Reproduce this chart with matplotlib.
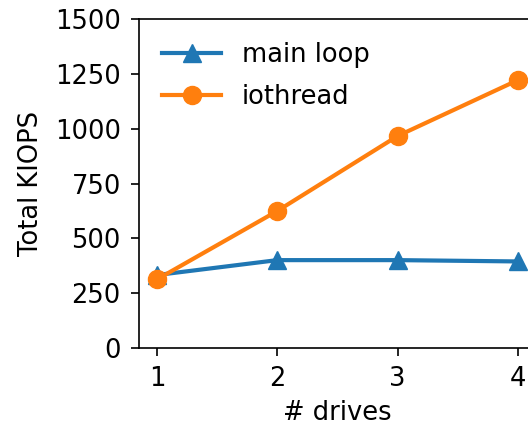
import matplotlib
matplotlib.use("Agg")
import matplotlib.pyplot as plt

drives = [1, 2, 3, 4]
main_loop = [333, 401, 401, 395]
iothread = [313, 625, 967, 1222]

plt.rcParams['font.size'] = 18.5
fig = plt.figure(figsize=(5.28, 4.26), dpi=100)
ax = fig.add_axes([0.263, 0.183, 0.752, 0.772])
ax.plot(drives, main_loop, marker='^', color='#1f77b4', lw=3, ms=12.5, label='main loop')
ax.plot(drives, iothread, marker='o', color='#ff7f0e', lw=3, ms=13, label='iothread')
ax.set_xlim(0.85, 4.15)
ax.set_ylim(0, 1500)
ax.set_xticks(drives)
ax.set_yticks([0, 250, 500, 750, 1000, 1250, 1500])
ax.tick_params(length=6, width=1.2, pad=7)
for s in ax.spines.values():
    s.set_linewidth(1.2)
ax.set_xlabel('# drives', labelpad=6)
ax.set_ylabel('Total KIOPS', labelpad=8)
ax.legend(loc='upper left', frameon=False, handlelength=2.3, labelspacing=0.6,
          bbox_to_anchor=(0.0, 1.0))
fig.savefig('out.png', dpi=100)
